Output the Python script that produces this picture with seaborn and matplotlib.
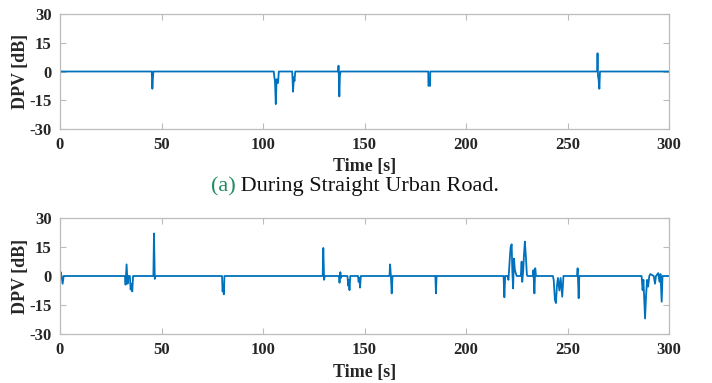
import matplotlib
matplotlib.use("Agg")
import matplotlib.pyplot as plt
import seaborn as sns
import pandas as pd

# ---- data (a): straight urban road ----
time_a = [0, 45.2, 45.5, 45.8, 46.0,
          105.3, 105.6, 105.9, 106.3, 106.7, 107.1, 107.4, 107.8,
          114.4, 114.8, 115.2, 115.5, 115.9,
          137.0, 137.2, 137.4, 137.6, 137.9, 138.2,
          181.4, 181.5, 181.9, 182.3, 182.4,
          264.6, 264.8, 265.0, 265.3, 265.7, 266.0,
          300]
dpv_a = [0, 0, -9, -3, 0,
         0, -3, -5, -17, -4, -5, -6, 0,
         0, -10.5, -3, -5, 0,
         0, 3, -4, -13, -2, 0,
         0, -7.5, -7, -7.5, 0,
         0, 9.5, -2, -4, -9, 0,
         0]

# ---- data (b) ----
time_b = [0, 0.4, 1.3, 1.8,
          32.0, 32.3, 32.8, 33.3, 33.7, 34.4, 34.8, 35.2, 35.6, 36.0,
          46.0, 46.3, 46.7, 47.0,
          79.8, 80.1, 80.4, 80.7, 81.0,
          129.4, 129.7, 130.1, 130.4,
          137.4, 137.7, 138.1, 138.4, 138.7,
          141.6, 142.0, 142.3, 142.6, 143.0,
          146.8, 147.1, 147.5, 147.8, 148.2,
          162.3, 162.6, 163.0, 163.4, 163.8,
          184.9, 185.2, 185.5,
          218.5, 218.9, 219.3,
          220.6, 220.9, 221.7, 222.0, 222.5, 222.8, 223.2, 223.6, 224.1, 224.5, 225.0,
          227.0, 227.4, 227.7, 228.2, 228.6, 229.0, 229.5, 230.0, 230.3,
          233.0, 233.2, 233.7, 234.1, 234.5,
          242.8, 243.2, 243.8, 244.3, 244.8, 245.3, 246.0, 246.6, 247.4, 248.0,
          254.7, 255.0, 255.5, 255.8,
          286.5, 287.0, 287.4, 288.2, 288.7, 289.2, 289.7, 290.3, 290.8,
          292.5, 293.1, 293.6, 294.7, 295.3, 295.8, 296.4, 296.8,
          300]
dpv_b = [0, 2, -4, 0,
         0, -4.5, 6, -4, 0, 0, -7, -4, -8, 0,
         0, 22, -1.5, 0,
         0, -8, -5, -9.5, 0,
         0, 14.5, -2, 0,
         0, -3.5, 2, -1, 0,
         0, -5, -2, -7.3, 0,
         0, -3, -1, -6, 0,
         0, 6, 0, -9, 0,
         0, -9, 0,
         0, -11, 0,
         0, -2, 11, 15, 16.4, 3, -6.4, 9, 3, 1.5, 0,
         0, 7.4, -3, 3, 11.7, 17.8, 10, 0.5, 0,
         0, 3, -9, 4, 0,
         0, -2, -12.4, -14, -5, -1, -7.5, -1, -10.7, 0,
         0, 4, -11.5, 0,
         0, -7.3, -2, -22, -10, -2, -5.5, 0, 1,
         0, -4, 0, 1.5, -3, 1, -13.3, 0,
         0]

x_ticks = [0, 50, 100, 150, 200, 250, 300]
y_ticks = [-30, -15, 0, 15, 30]
x_label = "Time [s]"
y_label = "DPV [dB]"
caption_tag = "(a)"
caption_text = " During Straight Urban Road."

sns.set_theme(style="white")
plt.rcParams["font.family"] = ["Liberation Serif", "DejaVu Serif"]

fig = plt.figure(figsize=(7.12, 3.83), dpi=100)
W, H = 712, 383

def add_axes(top_px, bot_px):
    return fig.add_axes([60 / W, 1 - bot_px / H, (669 - 60) / W, (bot_px - top_px) / H])

ax_a = add_axes(14, 129)
ax_b = add_axes(218, 334)

line_color = "#0072BD"
spine_color = "#bcbcbc"

for ax, t, v in [(ax_a, time_a, dpv_a), (ax_b, time_b, dpv_b)]:
    df = pd.DataFrame({"t": t, "v": v})
    sns.lineplot(data=df, x="t", y="v", ax=ax, estimator=None, sort=False,
                 color=line_color, linewidth=1.3)
    ax.set_xlim(0, 300)
    ax.set_ylim(-30, 30)
    ax.set_xticks(x_ticks)
    ax.set_yticks(y_ticks)
    ax.set_xticklabels([str(x) for x in x_ticks])
    ax.set_yticklabels([str(y) for y in y_ticks])
    for s in ax.spines.values():
        s.set_color(spine_color)
        s.set_linewidth(0.9)
        s.set_visible(True)
    ax.tick_params(direction="in", length=4.5, width=0.8, color=spine_color,
                   top=True, right=True, bottom=True, left=True,
                   labelsize=12, labelcolor="#262626", pad=6)
    for lab in ax.get_xticklabels() + ax.get_yticklabels():
        lab.set_fontweight("bold")
    ax.set_xlabel(x_label, fontsize=13, fontweight="bold", color="#262626")
    ax.set_ylabel(y_label, fontsize=13, fontweight="bold", color="#262626")
    ax.grid(False)

ax_a.xaxis.set_label_coords(0.5, -(166 - 129) / 115)
ax_b.xaxis.set_label_coords(0.5, -(372 - 334) / 116)
ax_a.yaxis.set_label_coords(-(60 - 21) / 609, 0.5)
ax_b.yaxis.set_label_coords(-(60 - 21) / 609, 0.5)
for ax in (ax_a, ax_b):
    ax.xaxis.label.set_va("center")
    ax.yaxis.label.set_va("center")

# caption with coloured tag
fig.canvas.draw()
renderer = fig.canvas.get_renderer()
tmp1 = fig.text(0, 0, caption_tag, fontsize=16)
tmp2 = fig.text(0, 0, caption_text, fontsize=16)
w1 = tmp1.get_window_extent(renderer).width
w2 = tmp2.get_window_extent(renderer).width
tmp1.remove(); tmp2.remove()
total = w1 + w2
x0 = 355 - total / 2
yc = 1 - 187 / H
fig.text(x0 / W, yc, caption_tag, fontsize=16, color="#1f8a5c", va="center", ha="left")
fig.text((x0 + w1) / W, yc, caption_text, fontsize=16, color="#111111", va="center", ha="left")

fig.savefig("out.png", dpi=100)
